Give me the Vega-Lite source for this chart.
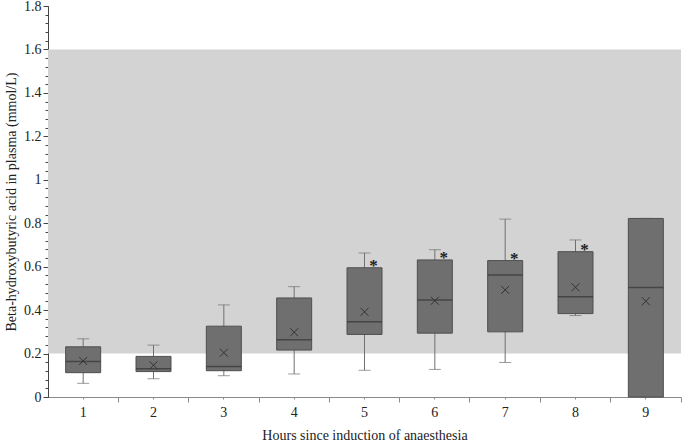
{
  "$schema": "https://vega.github.io/schema/vega-lite/v6.json",
  "autosize": "none",
  "width": 633,
  "height": 391,
  "padding": {"left": 48, "top": 6, "right": 4, "bottom": 47},
  "background": "white",
  "config": {
    "view": {"stroke": null},
    "font": "Liberation Serif",
    "axis": {"labelFont": "Liberation Serif", "titleFont": "Liberation Serif", "labelFontSize": 14, "titleFontSize": 14, "titleFontWeight": "normal", "labelColor": "#222", "titleColor": "#222", "grid": false}
  },
  "datasets": {
    "boxes": [
      {"hour": 1, "lo": 0.063, "q1": 0.112, "med": 0.164, "q3": 0.231, "hi": 0.268, "mean": 0.166, "sig": false},
      {"hour": 2, "lo": 0.084, "q1": 0.117, "med": 0.130, "q3": 0.187, "hi": 0.239, "mean": 0.146, "sig": false},
      {"hour": 3, "lo": 0.098, "q1": 0.121, "med": 0.140, "q3": 0.326, "hi": 0.424, "mean": 0.204, "sig": false},
      {"hour": 4, "lo": 0.106, "q1": 0.216, "med": 0.263, "q3": 0.456, "hi": 0.508, "mean": 0.298, "sig": false},
      {"hour": 5, "lo": 0.123, "q1": 0.288, "med": 0.346, "q3": 0.595, "hi": 0.663, "mean": 0.392, "sig": true},
      {"hour": 6, "lo": 0.127, "q1": 0.294, "med": 0.447, "q3": 0.631, "hi": 0.678, "mean": 0.443, "sig": true},
      {"hour": 7, "lo": 0.159, "q1": 0.300, "med": 0.562, "q3": 0.628, "hi": 0.819, "mean": 0.493, "sig": true},
      {"hour": 8, "lo": 0.375, "q1": 0.384, "med": 0.461, "q3": 0.669, "hi": 0.723, "mean": 0.505, "sig": true},
      {"hour": 9, "lo": 0.0, "q1": 0.0, "med": 0.504, "q3": 0.822, "hi": 0.822, "mean": 0.441, "sig": false}
    ],
    "range": [{"low": 0.2, "high": 1.6}]
  },
  "resolve": {"axis": {"x": "independent", "y": "independent"}},
  "layer": [
    {
      "data": {"name": "range"},
      "mark": {"type": "rect", "color": "#d3d3d3"},
      "encoding": {
        "y": {"field": "low", "type": "quantitative", "scale": {"domain": [0, 1.8], "nice": false, "zero": true}, "axis": null},
        "y2": {"field": "high"}
      }
    },
    {
      "layer": [
        {"mark": {"type": "rule", "color": "#e0e0e0", "strokeWidth": 1}, "encoding": {"y": {"datum": 0.4, "type": "quantitative", "axis": null}}},
        {"mark": {"type": "rule", "color": "#e0e0e0", "strokeWidth": 1}, "encoding": {"y": {"datum": 0.6, "type": "quantitative", "axis": null}}},
        {"mark": {"type": "rule", "color": "#e0e0e0", "strokeWidth": 1}, "encoding": {"y": {"datum": 0.8, "type": "quantitative", "axis": null}}},
        {"mark": {"type": "rule", "color": "#e0e0e0", "strokeWidth": 1}, "encoding": {"y": {"datum": 1.0, "type": "quantitative", "axis": null}}},
        {"mark": {"type": "rule", "color": "#e0e0e0", "strokeWidth": 1}, "encoding": {"y": {"datum": 1.2, "type": "quantitative", "axis": null}}},
        {"mark": {"type": "rule", "color": "#e0e0e0", "strokeWidth": 1}, "encoding": {"y": {"datum": 1.4, "type": "quantitative", "axis": null}}},
        {"mark": {"type": "rule", "color": "#e0e0e0", "strokeWidth": 1}, "encoding": {"y": {"datum": 1.8, "type": "quantitative", "axis": null}}}
      ]
    },
    {
      "data": {"name": "boxes"},
      "mark": {"type": "rule", "color": "#707070", "strokeWidth": 1},
      "encoding": {
        "x": {"field": "hour", "type": "ordinal", "scale": {"paddingInner": 0, "paddingOuter": 0}, "axis": null},
        "y": {"field": "lo", "type": "quantitative", "axis": {
          "orient": "left", "values": [0,0.04,0.08,0.12,0.16,0.2,0.24,0.28,0.32,0.36,0.4,0.44,0.48,0.52,0.56,0.6,0.64,0.68,0.72,0.76,0.8,0.84,0.88,0.92,0.96,1,1.04,1.08,1.12,1.16,1.2,1.24,1.28,1.32,1.36,1.4,1.44,1.48,1.52,1.56,1.6,1.64,1.68,1.72,1.76,1.8],
          "labels": false, "domain": false, "title": null, "tickSize": 3, "tickColor": "#444", "grid": false}},
        "y2": {"field": "hi"}
      }
    },
    {
      "data": {"name": "boxes"},
      "mark": {"type": "tick", "color": "#707070", "thickness": 1, "size": 12},
      "encoding": {
        "x": {"field": "hour", "type": "ordinal", "axis": null},
        "y": {"field": "hi", "type": "quantitative", "axis": null}
      }
    },
    {
      "data": {"name": "boxes"},
      "mark": {"type": "tick", "color": "#707070", "thickness": 1, "size": 12},
      "encoding": {
        "x": {"field": "hour", "type": "ordinal", "axis": null},
        "y": {"field": "lo", "type": "quantitative", "axis": null}
      }
    },
    {
      "data": {"name": "boxes"},
      "mark": {"type": "bar", "fill": "#6f6f6f", "stroke": "#4f4f4f", "strokeWidth": 1, "size": 35},
      "encoding": {
        "x": {"field": "hour", "type": "ordinal", "title": "Hours since induction of anaesthesia", "axis": {
          "orient": "bottom", "bandPosition": 1, "tickSize": 5, "labelOffset": 0, "labelAngle": 0, "labelPadding": 3, "titlePadding": 9,
          "domainColor": "#8a8a8a", "tickColor": "#8a8a8a"}},
        "y": {"field": "q1", "type": "quantitative", "scale": {"domain": [0, 1.8], "nice": false},
          "title": "Beta-hydroxybutyric acid in plasma (mmol/L)",
          "axis": {"orient": "left", "values": [0,0.2,0.4,0.6,0.8,1,1.2,1.4,1.6,1.8], "format": "~g", "tickSize": 5, "labelPadding": 2, "titlePadding": 5,
            "domainColor": "#444", "tickColor": "#444", "grid": false}},
        "y2": {"field": "q3"}
      }
    },
    {
      "data": {"name": "boxes"},
      "mark": {"type": "tick", "color": "#333333", "thickness": 1.5, "size": 35},
      "encoding": {
        "x": {"field": "hour", "type": "ordinal", "axis": {"orient": "bottom", "labels": false, "domain": false, "title": null, "tickSize": 2, "tickColor": "#8a8a8a"}},
        "y": {"field": "med", "type": "quantitative", "axis": null}
      }
    },
    {
      "data": {"name": "boxes"},
      "mark": {"type": "point", "shape": "M-1,-1L1,1M-1,1L1,-1", "filled": false, "stroke": "#333333", "strokeWidth": 1, "size": 64, "opacity": 1},
      "encoding": {
        "x": {"field": "hour", "type": "ordinal", "axis": null},
        "y": {"field": "mean", "type": "quantitative", "axis": null}
      }
    },
    {
      "data": {"name": "boxes"},
      "transform": [{"filter": "datum.sig"}],
      "mark": {"type": "text", "text": "*", "font": "Liberation Serif", "fontSize": 17, "fontWeight": "bold", "color": "#222", "dx": 9, "dy": 3, "baseline": "alphabetic", "align": "center"},
      "encoding": {
        "x": {"field": "hour", "type": "ordinal", "axis": null},
        "y": {"field": "q3", "type": "quantitative", "axis": null}
      }
    }
  ]
}
